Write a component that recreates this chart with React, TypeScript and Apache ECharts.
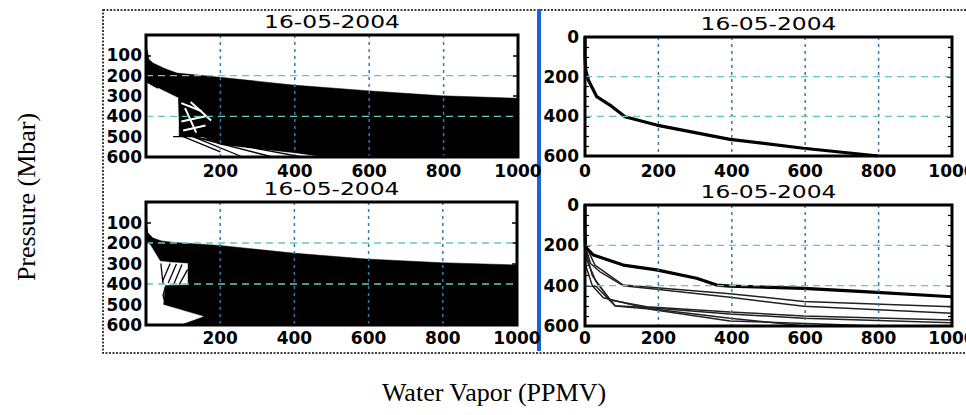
import { useEffect, useRef } from "react";
import * as echarts from "echarts";

const TITLE = "16-05-2004";
const X_LABEL = "Water Vapor (PPMV)";
const Y_LABEL = "Pressure (Mbar)";
const GRID_X = [200, 400, 600, 800];
const GRID_Y = [200, 400];

// Top-left panel: dense bundle of profiles (upper envelope), white gaps in lower-left, stray lines
const TL_ENVELOPE = [[0, 55], [2, 60], [8, 120], [19, 138], [50, 165], [83, 187], [199, 208], [395, 246], [594, 274], [796, 299], [1000, 311]];
const TL_GAP = [[0, 228], [32, 261], [88, 311], [88, 500], [150, 500], [200, 541], [300, 562], [400, 582], [473, 600], [0, 600]];
const TL_HOLES = [
  [[95, 335], [150, 375]],
  [[95, 425], [160, 400]],
  [[100, 470], [160, 445]],
  [[105, 360], [135, 480]],
  [[120, 330], [175, 420]],
];
const TL_LINES = [
  [[0, 228], [32, 261]],
  [[88, 311], [92, 500]],
  [[73, 500], [160, 500]],
  [[126, 500], [260, 600]],
  [[126, 500], [340, 600]],
  [[140, 505], [420, 600]],
  [[100, 500], [200, 575]],
];

// Bottom-left panel
const BL_ENVELOPE = [[0, 60], [2, 110], [5, 150], [19, 176], [42, 190], [78, 198], [199, 212], [395, 249], [594, 278], [796, 296], [1000, 307]];
const BL_GAP = [[0, 200], [11, 208], [38, 289], [70, 295], [112, 300], [112, 403], [51, 405], [46, 501], [154, 558], [90, 600], [0, 600]];
const BL_LINES = [
  [[45, 385], [65, 300]],
  [[60, 395], [82, 303]],
  [[75, 400], [97, 305]],
  [[90, 402], [112, 330]],
  [[40, 300], [46, 400]],
  [[52, 415], [46, 455], [52, 495]],
];

// Top-right panel: single profile
const TR_PROFILE = [[0, 0], [0, 100], [2, 166], [9, 217], [32, 301], [68, 343], [109, 402], [195, 444], [395, 516], [595, 561], [800, 600]];

// Bottom-right panel: several profiles
const BR_THICK = [[0, 0], [0, 120], [1, 207], [23, 248], [104, 298], [195, 322], [304, 363], [359, 397], [395, 402], [596, 413], [760, 430], [1000, 455]];
const BR_THIN = [
  [[0, 0], [1, 195], [27, 298], [104, 397], [195, 410], [395, 440], [596, 478], [1000, 504]],
  [[0, 0], [1, 205], [15, 290], [40, 330], [104, 400], [195, 418], [395, 458], [596, 502], [1000, 537]],
  [[0, 0], [2, 230], [20, 350], [68, 471], [168, 504], [395, 530], [596, 550], [1000, 570]],
  [[0, 0], [2, 260], [30, 380], [82, 500], [168, 508], [395, 540], [596, 562], [1000, 584]],
  [[0, 0], [2, 300], [20, 400], [50, 460], [168, 512], [395, 562], [600, 600]],
  [[0, 400], [30, 403], [82, 501], [168, 515], [395, 575], [800, 600]],
];

const GRIDS = [
  { left: 146, top: 35, width: 372, height: 122 },
  { left: 585, top: 37, width: 367, height: 119 },
  { left: 146, top: 202, width: 371, height: 123 },
  { left: 585, top: 205, width: 367, height: 121 },
];
const IS_LEFT = [true, false, true, false];
const X_MARGIN = [5, 6, 4, 3];

const LABEL_FONT = { color: "#000", fontFamily: "DejaVu Sans", fontWeight: "bold" as const, fontSize: 17 };

function polySeries(i: number, polys: [number[][], string][]) {
  return {
    type: "custom",
    xAxisIndex: i,
    yAxisIndex: i,
    silent: true,
    z: 2,
    data: [[0, 0]],
    renderItem: (_p: any, api: any) => ({
      type: "group",
      children: polys.map(([pts, fill]) => ({
        type: "polygon",
        shape: { points: pts.map((pt) => api.coord(pt)) },
        style: { fill, stroke: fill, lineWidth: 0.5 },
      })),
    }),
  };
}

function lineSeries(i: number, data: number[][], width: number, color = "#000") {
  return {
    type: "line",
    xAxisIndex: i,
    yAxisIndex: i,
    data,
    symbol: "none",
    silent: true,
    z: 3,
    lineStyle: { color, width },
  };
}

function gridLineSeries(i: number) {
  const out: any[] = [];
  GRID_X.forEach((gx) =>
    out.push({
      type: "line", xAxisIndex: i, yAxisIndex: i, symbol: "none", silent: true, z: 4,
      data: [[gx, 0], [gx, 600]],
      lineStyle: { color: "#3579b0", width: 1.5, type: [3, 4] },
    })
  );
  GRID_Y.forEach((gy) =>
    out.push({
      type: "line", xAxisIndex: i, yAxisIndex: i, symbol: "none", silent: true, z: 4,
      data: [[0, gy], [1000, gy]],
      lineStyle: { color: "#66c6c0", width: 1.3, type: [7, 5] },
    })
  );
  return out;
}

function buildOption() {
  const grid = GRIDS.map((g) => ({
    ...g, show: true, borderColor: "#000", borderWidth: 3, backgroundColor: "transparent", z: 10,
    containLabel: false, outerBoundsMode: "none",
  }));
  const xAxis = GRIDS.map((_, i) => ({
    gridIndex: i, type: "value", min: 0, max: 1000, interval: 200,
    axisLine: { show: false }, axisTick: { show: false }, splitLine: { show: false },
    axisLabel: {
      ...LABEL_FONT, margin: X_MARGIN[i], alignMinLabel: "center", alignMaxLabel: "center", hideOverlap: false,
      formatter: (v: number) => (IS_LEFT[i] && v === 0 ? "" : String(v)),
    },
  }));
  const yLeft = GRIDS.map((_, i) => ({
    gridIndex: i, type: "value", min: 0, max: 600, interval: IS_LEFT[i] ? 100 : 200, inverse: true,
    axisLine: { show: false },
    axisTick: { show: true, inside: true, length: 5, lineStyle: { color: "#000", width: 1.5 } },
    minorTick: { show: !IS_LEFT[i], splitNumber: 4, length: 4, lineStyle: { color: "#000", width: 1.2 } },
    splitLine: { show: false },
    axisLabel: { ...LABEL_FONT, margin: IS_LEFT[i] ? 4 : 6, formatter: (v: number) => (IS_LEFT[i] && v === 0 ? "" : String(v)) },
  }));
  const yRight = GRIDS.map((_, i) => ({
    gridIndex: i, type: "value", min: 0, max: 600, interval: IS_LEFT[i] ? 100 : 200, inverse: true, position: "right",
    axisLine: { show: false },
    axisTick: { show: true, inside: true, length: 5, lineStyle: { color: "#000", width: 1.5 } },
    minorTick: { show: !IS_LEFT[i], splitNumber: 4, length: 4, lineStyle: { color: "#000", width: 1.2 } },
    splitLine: { show: false },
    axisLabel: { show: false },
  }));

  const series: any[] = [];
  // TL
  series.push(polySeries(0, [
    [[...TL_ENVELOPE, [1000, 600], [0, 600]], "#000"],
    [TL_GAP, "#fff"],
  ]));
  TL_HOLES.forEach((l) => series.push(lineSeries(0, l, 2, "#fff")));
  TL_LINES.forEach((l) => series.push(lineSeries(0, l, 1.3)));
  // TR
  series.push(lineSeries(1, TR_PROFILE, 3.2));
  // BL
  series.push(polySeries(2, [[[...BL_ENVELOPE, [1000, 600], [0, 600]], "#000"], [BL_GAP, "#fff"]]));
  BL_LINES.forEach((l) => series.push(lineSeries(2, l, 1.3)));
  // BR
  BR_THIN.forEach((l) => series.push(lineSeries(3, l, 1.5, "#222")));
  series.push(lineSeries(3, BR_THICK, 3.2));
  for (let i = 0; i < 4; i++) series.push(...gridLineSeries(i));

  const titleGraphics = GRIDS.map((g) => ({
    type: "text",
    x: g.left + g.width / 2,
    y: g.top - 13,
    scaleX: 1.3,
    style: {
      text: TITLE, align: "center", verticalAlign: "middle", textAlign: "center", textVerticalAlign: "middle",
      fontFamily: "DejaVu Sans", fontSize: 18, fill: "#000",
    },
  }));

  return {
    animation: false,
    backgroundColor: "#fff",
    grid,
    xAxis,
    yAxis: [...yLeft, ...yRight],
    series,
    graphic: [
      {
        type: "rect", shape: { x: 103, y: 10, width: 900, height: 343 },
        style: { fill: "none", stroke: "#000", lineWidth: 1.5, lineDash: [2, 1.5] }, silent: true,
      },
      { type: "rect", shape: { x: 537, y: 9, width: 4, height: 342 }, style: { fill: "#1e63d5" }, silent: true },
      ...titleGraphics,
      {
        type: "text", x: 494, y: 392,
        style: {
          text: X_LABEL, align: "center", verticalAlign: "middle", textAlign: "center", textVerticalAlign: "middle",
          fontFamily: "Liberation Serif", fontSize: 26, fill: "#000",
        },
      },
      {
        type: "text", x: 26, y: 197, rotation: Math.PI / 2,
        style: {
          text: Y_LABEL, align: "center", verticalAlign: "middle", textAlign: "center", textVerticalAlign: "middle",
          fontFamily: "Liberation Serif", fontSize: 26, fill: "#000",
        },
      },
    ],
  };
}

export default function App() {
  const ref = useRef<HTMLDivElement>(null);
  useEffect(() => {
    if (!ref.current) return;
    const chart = echarts.init(ref.current, null, { renderer: "svg" });
    chart.setOption(buildOption() as any);
    return () => chart.dispose();
  }, []);
  return <div ref={ref} style={{ position: "fixed", left: 0, top: 0, width: 966, height: 415, background: "#fff" }} />;
}
